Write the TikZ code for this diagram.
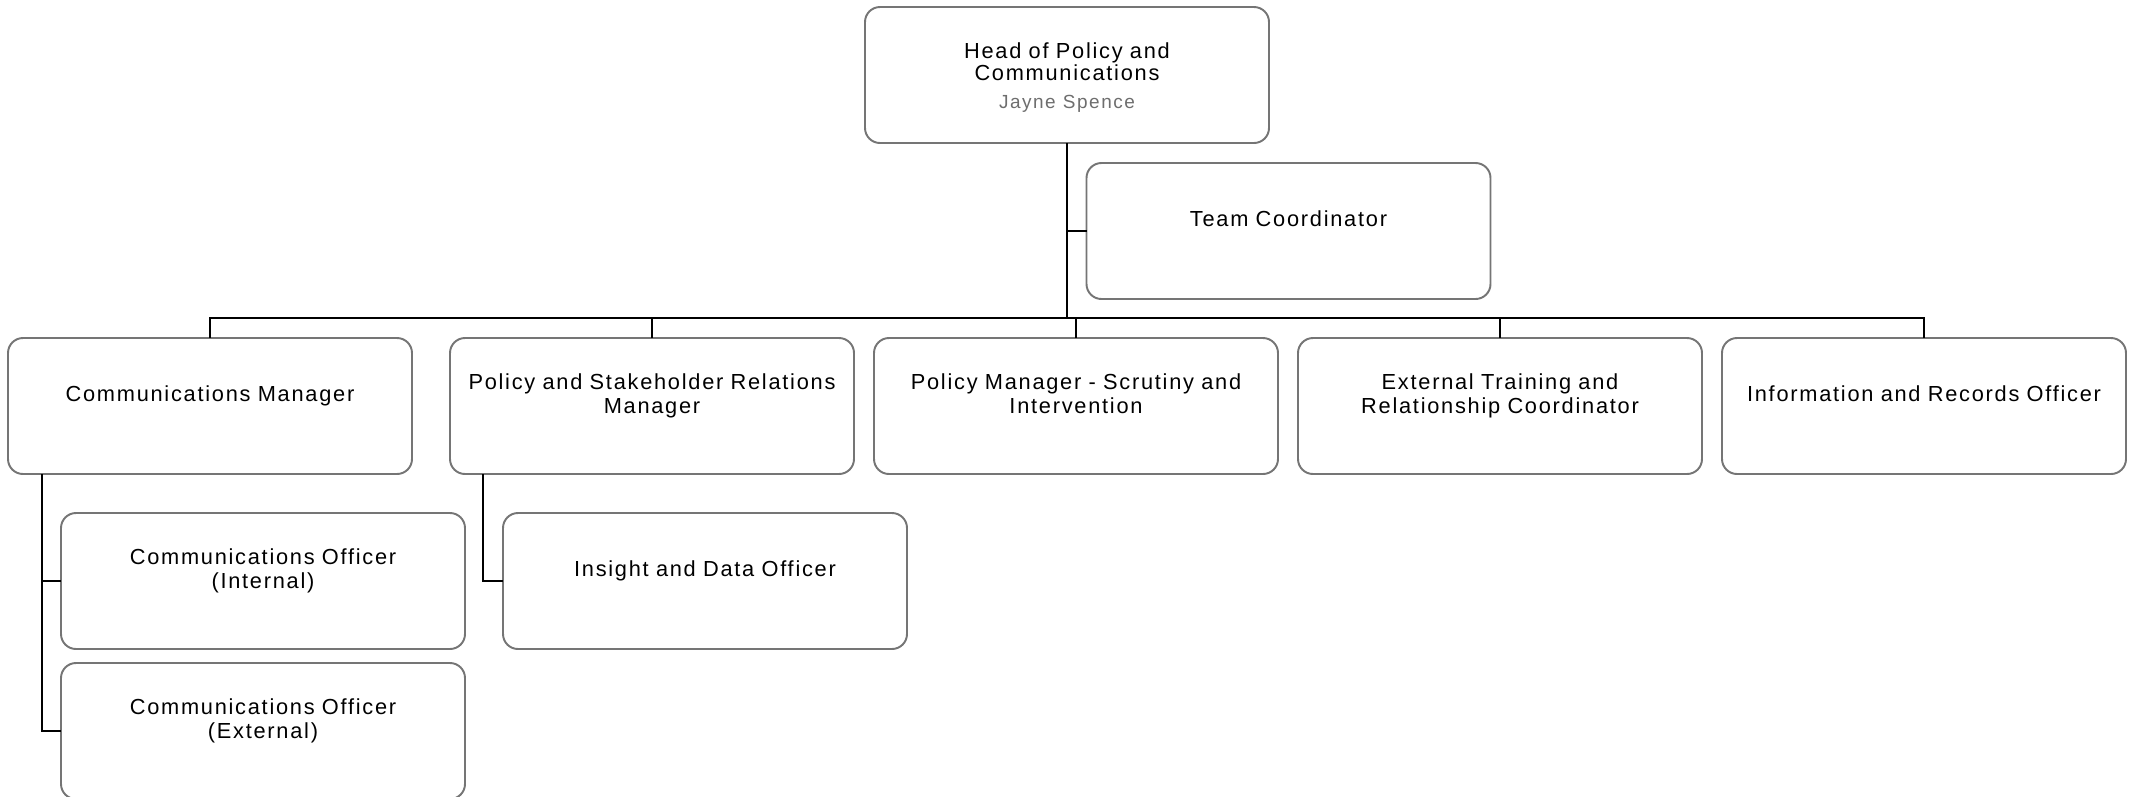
\documentclass[tikz,border=0pt]{standalone}
\usepackage{fontspec}
\setmainfont{Liberation Sans}[LetterSpace=8]
\usetikzlibrary{positioning}

\definecolor{boxgray}{HTML}{757575}
\definecolor{namegray}{HTML}{6E6E6E}

\begin{document}
\begin{tikzpicture}
        [
            node distance = 0.4cm and 0.4cm,
            role/.style = {
                draw=boxgray, fill=white, line width=1.1pt, rounded corners=0.3cm,
                minimum width=8.08cm, minimum height=2.72cm, inner xsep=0pt, outer sep=0pt,
                text width=7.8cm, align=center,
                font=\fontsize{12.4}{13.9}\selectfont},
            head/.style = {role, font=\fontsize{12.4}{12.9}\selectfont},
            link/.style = {draw=black, line width=1.1pt}
        ]
        \useasboundingbox (0,0) rectangle (42.68,-15.92);
        \node [head, anchor=north west] (Head) at (17.3,-0.14) {\rule{0pt}{12pt}Head of Policy and\\Communications\\[3pt]{\color{namegray}\fontsize{10.8}{13}\selectfont Jayne Spence}};
        \node [role] (Team) [below=0.4cm of Head.south, anchor=north west, xshift=0.39cm] {Team Coordinator\\\mbox{}};
        \node [role, anchor=north west] (CommsMgr) at (0.16,-6.76) {Communications Manager\\\mbox{}};
        \node [role] (PolicyRel) [right=0.76cm of CommsMgr] {Policy and Stakeholder Relations\\Manager\\\mbox{}};
        \node [role] (Scrutiny) [right=of PolicyRel] {Policy Manager - Scrutiny and\\Intervention\\\mbox{}};
        \node [role] (Training) [right=of Scrutiny] {External Training and\\Relationship Coordinator\\\mbox{}};
        \node [role] (Records) [right=of Training] {Information and Records Officer\\\mbox{}};
        \node [role] (CommsInt) [below=0.78cm of CommsMgr.south west, anchor=north west, xshift=1.06cm] {Communications Officer\\(Internal)\\\mbox{}};
        \node [role] (CommsExt) [below=0.28cm of CommsInt] {Communications Officer\\(External)\\\mbox{}};
        \node [role] (Insight) [below=0.78cm of PolicyRel.south west, anchor=north west, xshift=1.06cm] {Insight and Data Officer\\\mbox{}};
        % reporting lines
        \coordinate (Bus) at ([yshift=0.4cm]CommsMgr.north);
        \draw [link] (Head.south) -- (Head.south |- Bus);
        \draw [link] (Team.west) -- (Team.west -| Head.south);
        \draw [link] (CommsMgr.north) -- (Bus) -- (Bus -| Records.north) -- (Records.north);
        \foreach \n in {PolicyRel,Scrutiny,Training}
            \draw [link] (\n.north) -- (\n.north |- Bus);
        \coordinate (CommsTrunk) at ([xshift=0.68cm]CommsMgr.south west);
        \draw [link] (CommsTrunk) |- (CommsInt.west);
        \draw [link] (CommsTrunk) |- (CommsExt.west);
        \draw [link] ([xshift=0.66cm]PolicyRel.south west) |- (Insight.west);
    \end{tikzpicture}
\end{document}
